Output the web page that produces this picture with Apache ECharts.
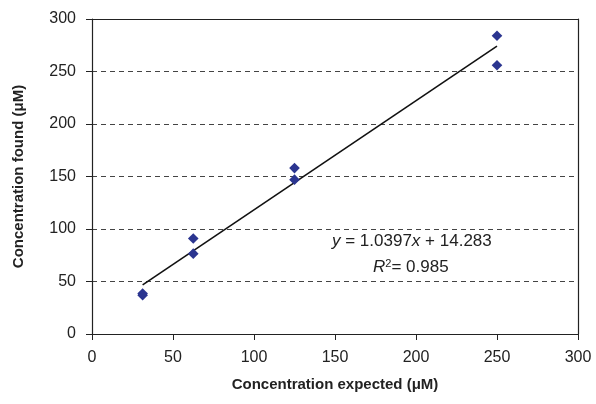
<!DOCTYPE html>
<html>
<head>
<meta charset="utf-8">
<script src="https://cdn.jsdelivr.net/npm/echarts@6/dist/echarts.min.js"></script>
<style>
  html, body { margin: 0; padding: 0; background: #fff; }
  #chart { width: 596px; height: 404px; }
</style>
</head>
<body>
<div id="chart"></div>
<script>
// measured points (expected vs found)
const expected = [31.25, 31.25, 62.5, 62.5, 125, 125, 250, 250];
const found = [37, 38.5, 91, 76.5, 158, 147, 284, 256];
// linear fit as printed on the chart
const slope = 1.0397;
const intercept = 14.283;
const trendX = [31.25, 250];
const xTicks = [0, 50, 100, 150, 200, 250, 300];
const yTicks = [0, 50, 100, 150, 200, 250, 300];

const pts = expected.map((x, i) => [x, found[i]]);
const trend = trendX.map(x => [x, slope * x + intercept]);

const font = 'Liberation Sans, Arial, sans-serif';
const chart = echarts.init(document.getElementById('chart'));

chart.setOption({
  animation: false,
  textStyle: { fontFamily: font },
  grid: { left: 92, right: 18, top: 19, bottom: 70 },
  xAxis: [{
    type: 'value', min: xTicks[0], max: xTicks[xTicks.length - 1], interval: 50,
    name: 'Concentration expected (\u03bcM)', nameLocation: 'middle', nameGap: 43,
    nameTextStyle: { fontSize: 15, fontWeight: 'bold', color: '#222' },
    axisLine: { lineStyle: { color: '#222', width: 1.2 } },
    axisTick: { show: true, length: 6, lineStyle: { color: '#222' } },
    axisLabel: { fontSize: 16, color: '#222', margin: 16 },
    splitLine: { show: false }
  }, {
    type: 'value', position: 'top', min: 0, max: 300,
    axisLine: { show: true, onZero: false, lineStyle: { color: '#222', width: 1.2 } },
    axisTick: { show: false }, axisLabel: { show: false }, splitLine: { show: false }
  }],
  yAxis: [{
    type: 'value', min: yTicks[0], max: yTicks[yTicks.length - 1], interval: 50,
    name: 'Concentration found (\u03bcM)', nameLocation: 'middle', nameGap: 66,
    nameTextStyle: { fontSize: 15, fontWeight: 'bold', color: '#222' },
    axisLine: { show: true, lineStyle: { color: '#222', width: 1.2 } },
    axisTick: { show: true, length: 6, lineStyle: { color: '#222' } },
    axisLabel: { fontSize: 16, color: '#222', margin: 16 },
    splitLine: { show: true, lineStyle: { color: '#444', type: [5, 4], width: 1 } }
  }, {
    type: 'value', position: 'right', min: 0, max: 300,
    axisLine: { show: true, onZero: false, lineStyle: { color: '#222', width: 1.2 } },
    axisTick: { show: false }, axisLabel: { show: false }, splitLine: { show: false }
  }],
  series: [{
    type: 'line',
    data: trend,
    symbol: 'none',
    lineStyle: { color: '#111', width: 1.6 },
    z: 2
  }, {
    type: 'scatter',
    data: pts,
    symbol: 'rect',
    symbolSize: 7.5,
    symbolRotate: 45,
    itemStyle: { color: '#2b3590', opacity: 1 },
    z: 3
  }],
  graphic: [{
    type: 'text',
    left: 332, top: 233,
    style: {
      text: '{i|y} = 1.0397{i|x} + 14.283',
      font: '17px ' + font,
      fill: '#222',
      rich: { i: { fontStyle: 'italic', fontSize: 17, fontFamily: font } }
    }
  }, {
    type: 'text',
    left: 373, top: 258,
    style: {
      text: '{i|R}{s|2}= 0.985',
      font: '17px ' + font,
      fill: '#222',
      rich: {
        i: { fontStyle: 'italic', fontSize: 17, fontFamily: font },
        s: { fontSize: 11, fontFamily: font, verticalAlign: 'top', padding: [0, 0, 8, 0] }
      }
    }
  }]
});
</script>
</body>
</html>
